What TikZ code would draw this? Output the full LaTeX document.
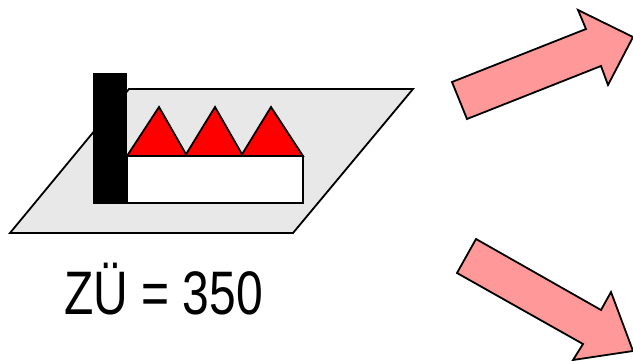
\documentclass[tikz,border=0pt]{standalone}
\usepackage{fontspec}
\setmainfont{Liberation Sans}
\definecolor{plate}{RGB}{232,232,232}
\definecolor{arrowpink}{RGB}{255,153,153}
\tikzset{
  outline/.style={draw=black,line width=1.8pt,line join=miter},
  plate/.style={outline,fill=plate},
  roof/.style={outline,fill=red},
  hall/.style={outline,fill=white},
  tower/.style={fill=black},
  bigarrow/.style={outline,fill=arrowpink},
  caption/.style={inner sep=0pt,anchor=base west,font=\fontsize{48pt}{50pt}\selectfont}
}
\begin{document}
\begin{tikzpicture}[x=1pt,y=-1pt]
\useasboundingbox (0,0) rectangle (633,361);
\clip (0,0) rectangle (633,361);
\draw[plate] (10,233) -- (293,233) -- (413,89) -- (129,89) -- cycle;
\draw[hall] (127,156) rectangle (303,203);
\draw[roof] (127,156) -- (159,107) -- (187,156) -- cycle;
\draw[roof] (185,156) -- (215,107) -- (243,156) -- cycle;
\draw[roof] (241,156) -- (271,107) -- (303,156) -- cycle;
\fill[tower] (93,73) rectangle (127,204);
\draw[bigarrow] (452,82) -- (467,119) -- (601,66) -- (608,85) -- (633,37) -- (578,10) -- (586,29) -- cycle;
\draw[bigarrow] (476,239) -- (457,273) -- (583,344) -- (573,360) -- (633,351) -- (611,292) -- (601,310) -- cycle;
\node[caption] (zu) at (64,314) {\scalebox{1}[1.28]{ZÜ = 350}};
\end{tikzpicture}
\end{document}
